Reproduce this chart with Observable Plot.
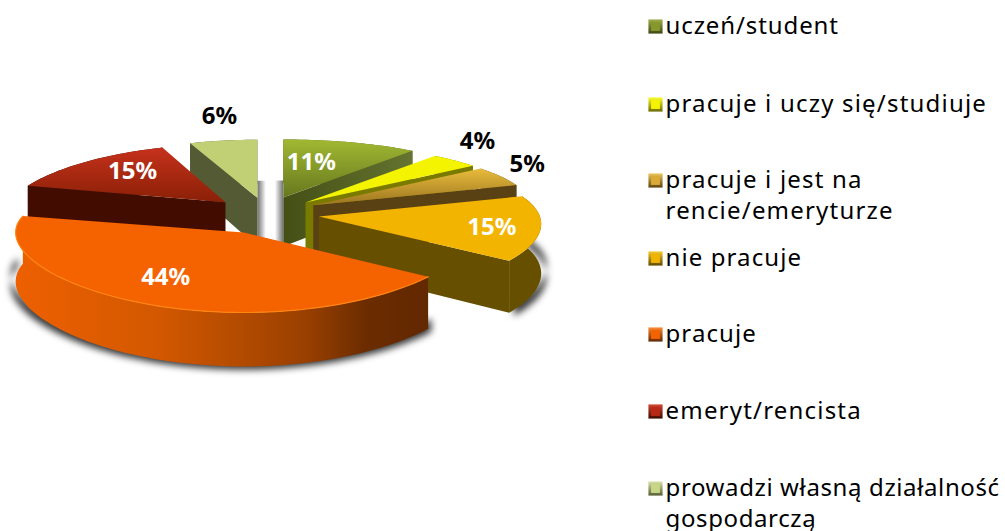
<!DOCTYPE html>
<html><head><meta charset="utf-8">
<style>html,body{margin:0;padding:0;background:#fff;overflow:hidden}svg{display:block}</style>
<script src="https://cdn.jsdelivr.net/npm/d3@7"></script>
<script src="https://cdn.jsdelivr.net/npm/@observablehq/plot@0.6"></script>
</head><body><script>
// data
const categories = ["uczeń/student","pracuje i uczy się/studiuje","pracuje i jest na\nrencie/emeryturze","nie pracuje","pracuje","emeryt/rencista","prowadzi własną działalność\ngospodarczą"];
const values = [11,4,5,15,44,15,6];
// layout of the exploded 3D pie (per slice)
const explodeX = [38,48,48,49,63,60,70];
const explodeY = [17,16,18,19,21,17,16];
const radiusBase = [221,221,221,221,228,216,205];
const radiusSlope = [24,24,24,24,0,48,24];
const labelDX = [28,172,214,173,-78,-93,-38];
const labelDY = [-35,-61,-41,11,45,-31,-81];
const labelInk = ["#fff","#000","#000","#fff","#fff","#fff","#000"];
const legendY = [26,104,180,258,334,411,488];
const legendTracking = [.9,1.2,1.2,1.1,1.1,1.2,.62];
const tops = ["url(#t0)","#f4f400","url(#t2)","#f3b400","#f56200","url(#t5)","#c1d074"];
const walls = ["url(#w0)","#7a7a00","#5a4114","#665000","url(#w4)","#420d00","#545b34"];
const swatchOuter = ["url(#s0)","url(#s1)","url(#s2)","url(#s3)","url(#s4)","url(#s5)","url(#s6)"];
const swatchInner = ["#86982c","#f4f400","#d9aa35","#f0b400","#f56200","#b82a15","#c8d688"];
const order = [6,5,0,1,2,3,4];
const CX=270, CY=213;

const tau = 2*Math.PI;
const total = d3.sum(values);
let c=0;
const slices = values.map((v,i)=>{const a0=c/total*tau; c+=v; const a1=c/total*tau; const m=(a0+a1)/2;
  return {i,a0,a1,ax:CX+explodeX[i]*Math.sin(m),ay:CY-explodeY[i]*Math.cos(m)};
});
slices.forEach(s=>{
  s.p = a=>{const sx=Math.sin(a),yy=-Math.cos(a);
    return {x:s.ax+(radiusBase[s.i]+radiusSlope[s.i]*yy)*sx,y:s.ay+(69+11*yy)*yy,d:49+5*yy};};
});
function arc(s,a0,a1){const n=Math.max(2,Math.ceil((a1-a0)/0.03));return d3.range(n+1).map(k=>s.p(a0+(a1-a0)*k/n));}
const rows=[], shadow=[], rims=[];
function push(list,id,fill,pts){pts.forEach(p=>list.push({id,fill,x:p.x,y:p.y}));}
// shading in the gap between the two back slices
[[6,"url(#gapL)"],[0,"url(#gapR)"]].forEach(([i,f])=>{const s=slices[i],mid=(slices[6].ax+slices[0].ax)/2;
  push(rows,"gap"+i,f,[{x:s.ax,y:s.ay-17},{x:mid,y:s.ay-17},{x:mid,y:s.ay+49},{x:s.ax,y:s.ay+49}]);
});
order.forEach(i=>{const s=slices[i],apex={x:s.ax,y:s.ay,d:49};
  const down=p=>({x:p.x,y:p.y+p.d});
  const rim=arc(s,s.a0,s.a1);
  // soft ground shadow: only the lower band of the outer wall, spread outward
  if(i===3||i===4){
    const spread=p=>({x:CX+(p.x-CX)*1.02,y:p.y});
    const low=rim.map(p=>({x:p.x,y:p.y+42}));
    const under=rim.slice().reverse().map(p=>({x:p.x,y:p.y+p.d+3}));
    push(shadow,"sg"+i,"#333",[...low,...under].map(spread));
  }
  // walls
  const e = i<=3? s.p(s.a1): s.p(s.a0);
  if(i!==4) push(rows,"w"+i,walls[i],[apex,e,down(e),down(apex)]);
  push(rows,"r"+i,walls[i],[...rim,...rim.slice().reverse().map(down)]);
  // top
  push(rows,"t"+i,tops[i],[apex,...rim]);
  if(i===4) rim.filter(p=>p.y>200).forEach(p=>rims.push({x:p.x,y:p.y}));
});
const labels = slices.map(s=>({text:values[s.i]+"%",x:s.ax+labelDX[s.i],y:s.ay+labelDY[s.i],ink:labelInk[s.i]}));
const legend = categories.map((t,i)=>({t,i,y:legendY[i]}));

const grad=(id,horizontal,stops)=>`<linearGradient id="${id}" x1="0" y1="0" x2="${horizontal?1:0}" y2="${horizontal?0:1}">${stops.map(([o,c])=>`<stop offset="${o}" stop-color="${c}"/>`).join("")}</linearGradient>`;
const defsMark=()=>{const g=document.createElementNS("http://www.w3.org/2000/svg","defs");
 g.innerHTML=[
  grad("gapL",1,[[0,"#6e6e6e"],[.65,"#fff"]]),
  grad("gapR",1,[[.35,"#fff"],[1,"#6e6e6e"]]),
  grad("t0",0,[[0,"#a1b832"],[1,"#66781f"]]),
  grad("t2",0,[[0,"#e8bc3c"],[1,"#9c7420"]]),
  grad("t5",0,[[0,"#c6311c"],[1,"#8a2006"]]),
  grad("w0",1,[[0,"#434f15"],[1,"#657430"]]),
  grad("w4",1,[[0,"#ee6000"],[.35,"#d25800"],[.7,"#9a4000"],[.85,"#6c2c00"],[1,"#622800"]]),
  grad("s0",0,[[0,"#9db04a"],[1,"#3d4712"]]),
  grad("s1",0,[[0,"#ffff30"],[1,"#6a6a00"]]),
  grad("s2",0,[[0,"#eec65a"],[1,"#5c4310"]]),
  grad("s3",0,[[0,"#f8c930"],[1,"#5f4a00"]]),
  grad("s4",0,[[0,"#ff8a30"],[1,"#5e2800"]]),
  grad("s5",0,[[0,"#d5452f"],[1,"#3c0c00"]]),
  grad("s6",0,[[0,"#dbe4a8"],[1,"#565d30"]])
 ].join("");return g;};

const chart=Plot.plot({width:1005,height:531,margin:0,
 x:{domain:[0,1005],range:[0,1005],axis:null},y:{domain:[0,531],range:[0,531],axis:null},
 color:{type:"identity"},style:{background:"#fff"},
 marks:[defsMark,
  Plot.line(shadow,{x:"x",y:"y",z:"id",fill:"#333",stroke:"none",imageFilter:"blur(3.5px)"}),
  Plot.line(rows,{x:"x",y:"y",z:"id",fill:"fill",stroke:"none"}),
  Plot.line(rims,{x:"x",y:"y",stroke:"#ff8412",strokeWidth:1.2}),
  Plot.text(labels,{x:"x",y:"y",text:"text",fill:"ink",fontSize:24,fontWeight:"bold",fontFamily:"'Noto Sans'",textAnchor:"middle",lineAnchor:"middle"}),
  Plot.dot(legend,{x:()=>655,y:"y",symbol:"square",r:8,fill:d=>swatchOuter[d.i],stroke:"none"}),
  Plot.dot(legend,{x:()=>655,y:"y",symbol:"square",r:5,fill:d=>swatchInner[d.i],stroke:"none"}),
  Plot.text(legend,{x:()=>665,y:d=>d.y-14,text:"t",fontSize:24,lineHeight:1.27,fontFamily:"'Noto Sans'",fill:"#000",textAnchor:"start",lineAnchor:"top",className:"lg"})
 ]});
chart.querySelectorAll(".lg text").forEach((t,i)=>{t.style.letterSpacing=legendTracking[i]+"px";});
document.body.append(chart);
</script></body></html>
